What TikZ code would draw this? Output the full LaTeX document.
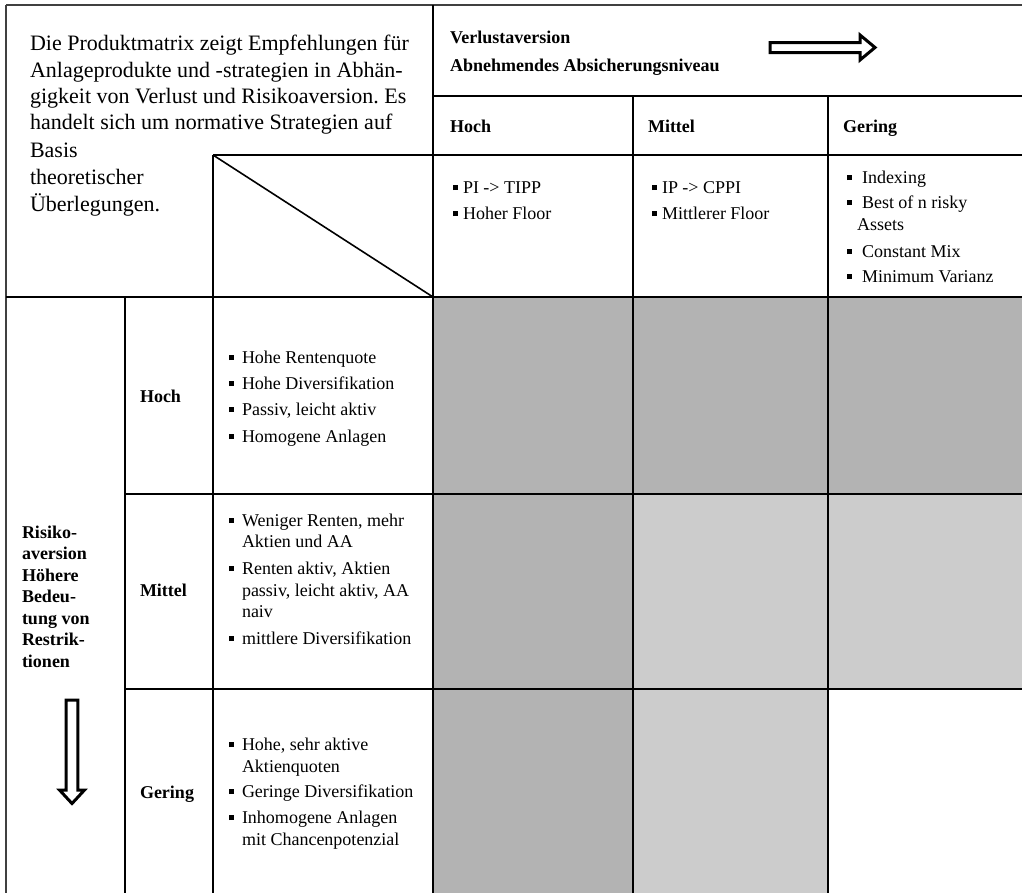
\documentclass[tikz,border=0pt]{standalone}
\usepackage{fontspec}
\setmainfont{Liberation Serif}
\definecolor{darkcell}{HTML}{B3B3B3}
\definecolor{lightcell}{HTML}{CCCCCC}
\newcommand{\mybul}[1]{\makebox[#1][l]{\rule[3pt]{5pt}{5pt}}}
\frenchspacing
\begin{document}
\begin{tikzpicture}[x=1pt,y=-1pt,
  gridline/.style={line width=2pt, black},
  outerline/.style={line width=1.6pt, black!75},
  txt/.style={anchor=base west, inner sep=0pt, outer sep=0pt, font=\fontsize{18pt}{21.5pt}\selectfont},
  btxt/.style={txt, font=\fontsize{18pt}{21.5pt}\selectfont\bfseries},
  ptxt/.style={txt, font=\fontsize{22pt}{26.5pt}\selectfont},
  hollow/.style={line width=3pt, black, fill=white, line join=miter},
]
\useasboundingbox (0,0) rectangle (1022,892);
\fill[white] (0,0) rectangle (1022,892);
\begin{scope}
  \clip (0,0) rectangle (1022,892);
  % shaded cells
  \fill[darkcell] (433,297) rectangle (1030,494);
  \fill[darkcell] (433,494) rectangle (633,900);
  \fill[lightcell] (633,494) rectangle (1030,689);
  \fill[lightcell] (633,689) rectangle (828,900);
  % outer lines
  \draw[outerline] (6,5) -- (1030,5);
  \draw[outerline] (6,5) -- (6,900);
  % grid
  \draw[gridline] (433,5) -- (433,900);
  \draw[gridline] (433,96) -- (1030,96);
  \draw[gridline] (213,155) -- (1030,155);
  \draw[gridline] (213,155) -- (213,900);
  \draw[line width=1.6pt] (213,155) -- (433,297);
  \draw[gridline] (6,297) -- (1030,297);
  \draw[gridline] (125,297) -- (125,900);
  \draw[gridline] (125,494) -- (1030,494);
  \draw[gridline] (125,689) -- (1030,689);
  \draw[gridline] (633,96) -- (633,900);
  \draw[gridline] (828,96) -- (828,900);
\end{scope}

% intro paragraph
\foreach \x/\y/\t [count=\i] in {
  30/50/{Die Produktmatrix zeigt Empfehlungen für},
  30/77/{Anlageprodukte und -strategien in Abhän-},
  30/103/{gigkeit von Verlust und Risikoaversion. Es},
  30/129/{handelt sich um normative Strategien auf},
  30/157/{Basis},
  30/184/{theoretischer},
  30/211/{Überlegungen.}}
  \node[ptxt] (intro\i) at (\x,\y) {\t};

% header texts
\node[btxt] (verl) at (450,43) {Verlustaversion};
\node[btxt] (abn) at (450,71) {Abnehmendes Absicherungsniveau};
\node[btxt] (hHoch) at (450,132) {Hoch};
\node[btxt] (hMittel) at (648,132) {Mittel};
\node[btxt] (hGering) at (843,132) {Gering};

% header bullets
\foreach \x/\y/\t [count=\i] in {
  453/193/{\mybul{10pt}PI -> TIPP},
  453/219/{\mybul{10pt}Hoher Floor},
  652/193/{\mybul{10pt}IP -> CPPI},
  652/219/{\mybul{10pt}Mittlerer Floor},
  847/183/{\mybul{15pt}Indexing},
  847/208/{\mybul{15pt}Best of n risky},
  857/230/{Assets},
  847/257/{\mybul{15pt}Constant Mix},
  847/282/{\mybul{15pt}Minimum Varianz}}
  \node[txt] (hb\i) at (\x,\y) {\t};

% row labels
\node[btxt] (rHoch) at (140,402) {Hoch};
\node[btxt] (rMittel) at (140,596) {Mittel};
\node[btxt] (rGering) at (140,798) {Gering};

% left label
\foreach \y/\t [count=\i] in {
  538/{Risiko-}, 559.5/{aversion}, 581/{Höhere}, 602.5/{Bedeu-},
  624/{tung von}, 645.5/{Restrik-}, 667/{tionen}}
  \node[btxt] (risk\i) at (22,\y) {\t};

% body bullets
\foreach \x/\y/\t [count=\i] in {
  229/363/{\mybul{13pt}Hohe Rentenquote},
  229/389/{\mybul{13pt}Hohe Diversifikation},
  229/415/{\mybul{13pt}Passiv, leicht aktiv},
  229/442/{\mybul{13pt}Homogene Anlagen},
  229/526/{\mybul{13pt}Weniger Renten, mehr},
  242/547/{Aktien und AA},
  229/574/{\mybul{13pt}Renten aktiv, Aktien},
  242/596/{passiv, leicht aktiv, AA},
  242/617/{naiv},
  229/644/{\mybul{13pt}mittlere Diversifikation},
  229/750/{\mybul{13pt}Hohe, sehr aktive},
  242/772/{Aktienquoten},
  229/797/{\mybul{13pt}Geringe Diversifikation},
  229/823/{\mybul{13pt}Inhomogene Anlagen},
  242/845/{mit Chancenpotenzial}}
  \node[txt] (bb\i) at (\x,\y) {\t};

% hollow arrows
\draw[hollow] (770,42.5) -- (860,42.5) -- (860,35) -- (875,47.5) -- (860,60) -- (860,52.5) -- (770,52.5) -- cycle;
\draw[hollow] (66.2,700) -- (66.2,790) -- (59.5,790) -- (72,803.5) -- (84.5,790) -- (77.8,790) -- (77.8,700) -- cycle;
\end{tikzpicture}
\end{document}
